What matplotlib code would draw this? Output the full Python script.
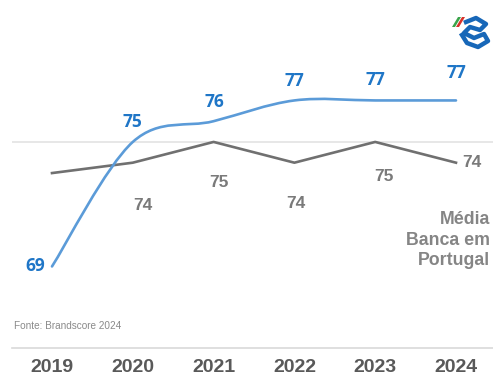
import matplotlib.pyplot as plt
from matplotlib.path import Path
from matplotlib.patches import PathPatch, Polygon

# series
anos = [2019, 2020, 2021, 2022, 2023, 2024]
cgd = [69, 75, 76, 77, 77, 77]
media_banca = [73.5, 74, 75, 74, 75, 74]
rotulos_media = [None, '74', '75', '74', '75', '74']

AZUL_LINHA = '#5b9bd8'
AZUL_TEXTO = '#1f76c7'
CINZA_LINHA = '#707070'
CINZA_TEXTO = '#7a7a7a'


def curva_suave(xs, ys):
    # bezier estilo excel (catmull-rom)
    n = len(xs)
    verts = [(xs[0], ys[0])]
    codes = [Path.MOVETO]
    for i in range(n - 1):
        a = max(i - 1, 0)
        d = min(i + 2, n - 1)
        c1 = (xs[i] + (xs[i + 1] - xs[a]) / 6, ys[i] + (ys[i + 1] - ys[a]) / 6)
        c2 = (xs[i + 1] - (xs[d] - xs[i]) / 6, ys[i + 1] - (ys[d] - ys[i]) / 6)
        verts += [c1, c2, (xs[i + 1], ys[i + 1])]
        codes += [Path.CURVE4] * 3
    return Path(verts, codes)


fig = plt.figure(figsize=(4.93, 3.79), dpi=100)
ax = fig.add_axes([12 / 493, 31 / 379, 1 - 12 / 493, 348 / 379])
ax.set_xlim(2018.505, 2024.458)
ax.set_ylim(65.07, 81.84)

for lado in ['top', 'right', 'left']:
    ax.spines[lado].set_visible(False)
ax.spines['bottom'].set_color('#d9d9d9')
ax.spines['bottom'].set_linewidth(1.2)

ax.set_yticks([75])
ax.set_yticklabels([])
ax.tick_params(axis='y', length=0)
ax.grid(axis='y', color='#e3e3e3', linewidth=1.2)
ax.set_axisbelow(True)

ax.set_xticks(anos)
ax.set_xticklabels([str(a) for a in anos], fontfamily='Liberation Sans',
                   fontweight='bold', fontsize=14, color='#595959')
ax.tick_params(axis='x', length=0, pad=8)

# média da banca
ax.plot(anos, media_banca, color=CINZA_LINHA, linewidth=1.9, zorder=3)

# CGD (linha suavizada)
ax.add_patch(PathPatch(curva_suave(anos, cgd), facecolor='none',
                       edgecolor=AZUL_LINHA, linewidth=1.9, zorder=4,
                       capstyle='round'))

desloc_cgd = [(-17, 0), (0, 20), (1, 19), (0, 19.5), (0, 20.5), (0, 27)]
for x, v, (dx, dy) in zip(anos, cgd, desloc_cgd):
    ax.annotate(str(v), (x, v), xytext=(dx, dy), textcoords='offset pixels',
                ha='center', va='center', fontfamily='Open Sans',
                fontweight='bold', fontsize=12.5, color=AZUL_TEXTO)

desloc_media = [None, (10, -43), (5, -41), (1, -41), (9, -35), (16, 0)]
for x, v, txt, off in zip(anos, media_banca, rotulos_media, desloc_media):
    if txt is None:
        continue
    ax.annotate(txt, (x, v), xytext=off, textcoords='offset pixels',
                ha='center', va='center', fontfamily='Liberation Sans',
                fontweight='bold', fontsize=12.5, color=CINZA_TEXTO)

fig.text(490 / 493, 1 - 240 / 379, 'Média\nBanca em\nPortugal', ha='right',
         va='center', linespacing=1.28, fontfamily='Liberation Sans',
         fontweight='bold', fontsize=12.8, color='#858585')

fig.text(14 / 493, 1 - 326 / 379, 'Fonte: Brandscore 2024', ha='left',
         va='center', fontfamily='Liberation Sans', fontsize=7.2,
         color='#8a8a8a')

# logótipo (aproximado)
def px(x, y):
    return (x / 493, 1 - y / 379)

fig.add_artist(Polygon([px(452, 27), px(455, 27), px(461, 17), px(458, 17)],
                       closed=True, transform=fig.transFigure,
                       facecolor='#3aa44a', edgecolor='none'))
fig.add_artist(Polygon([px(456, 27), px(459, 27), px(465, 17), px(462, 17)],
                       closed=True, transform=fig.transFigure,
                       facecolor='#d8322a', edgecolor='none'))
logo = [px(466, 22), px(476, 18), px(486, 24), px(480, 30), px(470, 27),
        px(464, 33), px(474, 38), px(484, 34), px(488, 41), px(478, 47),
        px(467, 43), px(462, 35)]
fig.add_artist(plt.Line2D([p[0] for p in logo], [p[1] for p in logo],
                          transform=fig.transFigure, color='#1767b8',
                          linewidth=3.2, solid_joinstyle='round'))

fig.savefig('out.png', dpi=100)
